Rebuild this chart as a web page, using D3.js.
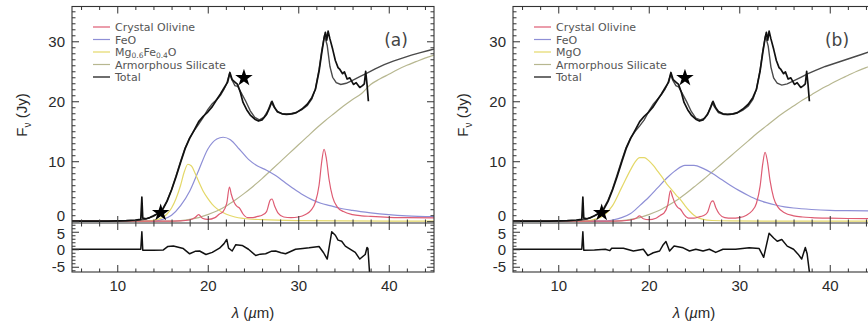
<!DOCTYPE html>
<html>
<head>
<meta charset="utf-8">
<script src="https://cdn.jsdelivr.net/npm/d3@7"></script>
<style>
  body { margin: 0; background: #fff; }
  svg { display: block; }
  .tick text { font-family: "Liberation Sans", Arial, Helvetica, sans-serif; font-size: 15px; fill: #2a2a2a; }
  .tick line { stroke: #333; stroke-width: 1; }
  .legend text { font-family: "DejaVu Sans", sans-serif; font-size: 11px; fill: #555; }
</style>
</head>
<body>
<svg id="chart" width="868" height="322"></svg>
<script>
// ---- axis ticks ----
const wavelengthTicks = [10, 20, 30, 40];
const fluxTicks = [0, 10, 20, 30];
const residualTicks = [-5, 0, 5];

// ---- legend labels ----
const legendNamesA = ["Crystal Olivine", "FeO", "Mg0.6Fe0.4O", "Armorphous Silicate", "Total"];
const legendNamesB = ["Crystal Olivine", "FeO", "MgO", "Armorphous Silicate", "Total"];

// ---- photometry points (λ µm, Jy) ----
const photometry = [[14.8, 1.4], [24.0, 23.9]];

// ---- observed spectrum (λ µm, Jy) ----
const observedFlux = [[5,0],[7,0],[9,0.02],[10,0.05],[11,0.1],[12,0.2],[12.6,0.3],[12.72,4.0],[12.82,0.5],[13.2,0.4],[13.6,0.6],[14,0.9],[14.5,1.3],[15,1.9],[15.5,3.3],[16,5.2],[16.5,7.4],[17,9.8],[17.5,12.1],[18,13.8],[18.5,15.2],[19,16.6],[19.5,17.5],[20,18.2],[20.5,19.1],[21,20.3],[21.4,21.2],[21.8,22.2],[22.2,23.2],[22.45,24.8],[22.7,23.6],[23,23.2],[23.3,22.8],[23.6,21.5],[23.9,19.8],[24.3,18.6],[24.7,17.7],[25.2,17.0],[25.6,16.7],[26,16.9],[26.5,17.8],[26.8,18.8],[27.1,20.0],[27.4,18.9],[27.7,18.3],[28.2,17.9],[28.7,17.8],[29.3,17.9],[29.8,18.1],[30.4,18.7],[31,19.5],[31.5,20.6],[31.9,22.0],[32.3,25.0],[32.6,28.1],[32.85,30.5],[33.0,31.5],[33.15,30.2],[33.3,31.7],[33.5,30.4],[33.8,28.7],[34.1,26.8],[34.4,25.6],[34.6,25.3],[34.9,24.6],[35.1,24.9],[35.4,23.7],[35.7,23.9],[36.1,22.8],[36.4,23.1],[36.8,22.3],[37.1,22.6],[37.3,22.9],[37.45,25.0],[37.6,22.8],[37.75,20.0]];

// ---- model (a) ----
const olivineA = [[5,0],[15,0],[17,0.05],[18,0.2],[18.6,0.6],[19.0,1.1],[19.4,0.5],[20,0.3],[20.8,0.6],[21.3,1.2],[21.7,1.6],[22.1,3.0],[22.4,5.7],[22.6,4.5],[22.9,3.2],[23.2,2.5],[23.5,2.2],[23.9,1.2],[24.4,0.6],[25,0.6],[25.5,0.8],[26,1.0],[26.5,1.6],[26.9,3.5],[27.1,3.7],[27.4,2.5],[27.8,1.3],[28.4,0.7],[29.2,0.6],[30,0.7],[30.8,1.1],[31.4,1.8],[31.9,3.2],[32.3,6.0],[32.6,10.0],[32.85,12.0],[33.1,10.5],[33.4,7.0],[33.8,4.0],[34.3,2.4],[35,1.6],[36,1.1],[37,0.9],[38,0.8],[40,0.65],[42,0.6],[45,0.55]];
const feoA = [[5,0],[14,0],[15,0.3],[16,1.0],[17,2.6],[18,5.0],[19,8.5],[20,12.0],[21,13.7],[21.7,14.0],[22.5,13.6],[23.5,12.0],[24.5,10.3],[25.5,9.2],[26.5,8.5],[27.5,7.6],[28.5,6.5],[29.5,5.4],[30.5,4.4],[31.5,3.6],[32.5,3.0],[33.5,2.6],[34.5,2.2],[36,1.8],[38,1.4],[40,1.1],[42,0.9],[45,0.75]];
const mgfeoA = [[5,0],[13,0],[14,0.15],[14.5,0.3],[15,0.6],[15.5,1.2],[16,2.2],[16.5,3.8],[17,6.0],[17.4,8.2],[17.8,9.5],[18.2,9.2],[18.6,8.0],[19,6.6],[19.5,5.0],[20,3.8],[20.5,2.8],[21,2.1],[22,1.2],[23,0.7],[24,0.45],[26,0.25],[30,0.1],[35,0.05],[45,0.02]];
const silicateA = [[5,0],[16,0],[17,0.1],[18,0.3],[19,0.6],[20,1.1],[21,1.7],[22,2.5],[23,3.5],[24,4.6],[25,5.8],[26,7.1],[27,8.5],[28,9.9],[29,11.3],[30,12.7],[31,14.1],[32,15.5],[33,16.8],[34,18.0],[35,19.2],[36,20.3],[37,21.3],[38,22.8],[39,23.7],[40,24.5],[41,25.3],[42,26.0],[43,26.6],[44,27.2],[45,27.7]];
const totalA = [[5,0],[10,0.02],[12,0.1],[13,0.3],[14,0.8],[14.5,1.3],[15,2.0],[15.5,3.4],[16,5.3],[16.5,7.6],[17,10.0],[17.5,12.2],[18,13.9],[18.5,15.1],[19,16.2],[19.5,17.3],[20,18.6],[20.5,19.6],[21,20.3],[21.4,21.0],[21.8,22.0],[22.1,23.0],[22.4,24.6],[22.7,23.5],[23,22.6],[23.3,22.5],[23.7,21.4],[24.2,20.0],[24.7,18.4],[25.2,17.3],[25.7,16.9],[26.2,17.3],[26.6,18.3],[27.0,19.8],[27.3,19.1],[27.7,18.2],[28.3,17.9],[29,17.9],[29.7,18.1],[30.4,18.6],[31,19.3],[31.5,20.4],[31.9,22.1],[32.3,25.3],[32.6,28.5],[32.9,31.0],[33.2,29.3],[33.5,25.8],[33.8,24.0],[34.2,23.1],[34.7,22.8],[35.3,23.0],[36,23.5],[36.8,24.1],[37.6,24.7],[38.5,25.4],[39.5,26.1],[40.5,26.7],[41.5,27.2],[42.5,27.7],[43.5,28.1],[44.5,28.5],[45,28.7]];
const residualA = [[5,0],[12.6,0],[12.72,5.0],[12.82,-0.3],[14,-0.3],[15.1,-0.2],[15.6,0.8],[16.2,0.9],[17.3,0.2],[18.0,-1.3],[18.6,-0.6],[19.1,-0.5],[19.8,-1.5],[20.5,-0.9],[21.3,0.3],[21.8,1.6],[22.1,2.8],[22.3,0.3],[22.7,-0.5],[23.1,1.3],[23.8,1.1],[24.5,0],[25.3,-1.8],[25.8,-1.4],[26.4,-1.3],[27.0,-0.6],[27.5,-0.5],[28.1,-1.0],[28.6,-1.3],[29.7,0],[30.5,0.2],[31.2,0.4],[32.3,0.8],[32.8,-1.0],[33.2,-2.8],[33.7,5.0],[34.1,4.0],[34.4,2.6],[34.8,2.3],[35.2,0.9],[35.5,0.4],[36.3,-0.9],[36.8,-2.8],[37.4,-1.5],[37.6,0.5],[37.7,0.2],[37.9,-7.5]];

// ---- model (b) ----
const olivineB = [[5,0],[15,0],[17,0.05],[18,0.2],[18.6,0.5],[19.0,0.9],[19.4,0.4],[20,0.25],[20.8,0.5],[21.3,1.0],[21.7,1.4],[22.1,2.7],[22.4,5.1],[22.6,4.2],[22.9,3.0],[23.2,2.3],[23.5,2.0],[23.9,1.1],[24.4,0.5],[25,0.5],[25.5,0.7],[26,0.9],[26.5,1.5],[26.9,3.2],[27.1,3.4],[27.4,2.3],[27.8,1.2],[28.4,0.6],[29.2,0.5],[30,0.6],[30.8,1.0],[31.4,1.7],[31.9,3.0],[32.3,5.8],[32.6,9.6],[32.85,11.5],[33.1,10.1],[33.4,6.8],[33.8,3.9],[34.3,2.3],[35,1.4],[36,0.9],[37,0.7],[38,0.6],[40,0.5],[42,0.45],[45,0.4]];
const feoB = [[5,0],[15,0],[16,0.2],[17,0.6],[18,1.3],[19,2.6],[20,4.0],[21,5.6],[22,7.2],[23,8.5],[24,9.3],[25,9.3],[26,8.8],[27,8.0],[28,7.0],[29,6.0],[30,5.1],[31,4.3],[32,3.6],[33,3.1],[34,2.7],[35,2.4],[36,2.2],[38,1.95],[40,1.8],[42,1.75],[45,1.7]];
const mgoB = [[5,0],[13,0],[14,0.3],[15,0.9],[16,2.6],[17,5.6],[18,8.6],[18.5,9.9],[19,10.6],[19.5,10.6],[20,10.1],[20.5,9.3],[21,8.3],[21.5,7.3],[22,6.2],[22.5,5.3],[23,4.4],[23.5,3.6],[24,2.6],[24.5,1.7],[25,1.0],[25.5,0.55],[26,0.3],[27,0.12],[29,0.04],[45,0]];
const silicateB = [[5,0],[16,0],[17,0.1],[18,0.3],[19,0.6],[20,1.1],[21,1.7],[22,2.5],[23,3.4],[24,4.5],[25,5.7],[26,6.9],[27,8.2],[28,9.5],[29,10.8],[30,12.1],[31,13.4],[32,14.7],[33,15.9],[34,17.1],[35,18.2],[36,19.2],[37,20.2],[38,21.1],[39,22.0],[40,22.8],[41,23.6],[42,24.3],[43,25.0],[44,25.6],[45,26.1]];
const totalB = [[5,0],[10,0.02],[12,0.1],[13,0.3],[14,0.9],[14.5,1.4],[15,2.1],[15.5,3.5],[16,5.4],[16.5,7.7],[17,10.1],[17.5,12.3],[18,13.9],[18.5,15.0],[19,15.9],[19.5,16.9],[20,18.3],[20.5,19.5],[21,20.4],[21.4,21.1],[21.8,22.0],[22.1,23.0],[22.4,24.4],[22.7,23.4],[23,22.6],[23.3,22.4],[23.7,21.3],[24.2,19.9],[24.7,18.3],[25.2,17.2],[25.7,16.9],[26.2,17.2],[26.6,18.2],[27.0,19.7],[27.3,19.0],[27.7,18.1],[28.3,17.8],[29,17.8],[29.7,18.0],[30.4,18.5],[31,19.2],[31.5,20.3],[31.9,22.0],[32.3,25.2],[32.6,28.4],[32.9,30.9],[33.2,29.2],[33.5,25.7],[33.8,23.9],[34.2,23.0],[34.7,22.7],[35.3,22.9],[36,23.4],[36.8,24.0],[37.6,24.6],[38.5,25.2],[39.5,25.8],[40.5,26.3],[41.5,26.8],[42.5,27.3],[43.5,27.8],[44.5,28.3],[45,28.5]];
const residualB = [[5,0],[12.6,0],[12.72,5.0],[12.82,-0.3],[14,-0.2],[15.2,0],[15.7,-0.4],[15.9,0.3],[17.2,0.3],[18.3,-0.5],[19.4,0],[19.9,-1.8],[20.5,-1.0],[21.2,-0.5],[21.6,1.3],[21.9,2.2],[22.3,-0.5],[22.8,0.9],[23.8,0.4],[24.5,-0.5],[25.2,0],[26.0,-0.5],[26.7,0],[27.4,-0.9],[28.2,0],[29.6,0],[31.1,0.4],[32.2,0.2],[32.7,-2.3],[33.3,4.6],[33.8,3.2],[34.2,2.3],[34.7,2.8],[35.3,0.9],[36.0,0],[36.5,-1.4],[36.9,-2.8],[37.3,0.5],[37.5,-1.3],[37.8,-7.5]];

// ---- component styling ----
const compColors = ["#de5c73", "#8e8fd6", "#e4d868", "#b7b790"];
const totalColor = "#4a4a4a";

const svg = d3.select("#chart");
const W = 362, topY = 6.5, midY = 223, botY = 272;

function drawPanel(left, tag, comps, total, resid, names) {
  const g = svg.append("g");
  const x = d3.scaleLinear().domain([5, 45]).range([left, left + W]);
  const y = d3.scaleLinear().domain([-0.3, 35.8]).range([midY, topY]);
  const yr = d3.scaleLinear().domain([-6.5, 7.5]).range([botY, midY]);

  const clipTop = "clipTop" + tag, clipBot = "clipBot" + tag;
  const defs = svg.append("defs");
  defs.append("clipPath").attr("id", clipTop).append("rect")
    .attr("x", left).attr("y", topY).attr("width", W).attr("height", midY - topY);
  defs.append("clipPath").attr("id", clipBot).append("rect")
    .attr("x", left).attr("y", midY).attr("width", W).attr("height", botY - midY);

  const smooth = d3.line().x(d => x(d[0])).y(d => y(d[1])).curve(d3.curveMonotoneX);
  const jagged = d3.line().x(d => x(d[0])).y(d => y(d[1]));
  const residLine = d3.line().x(d => x(d[0])).y(d => yr(d[1]));

  const plot = g.append("g").attr("clip-path", `url(#${clipTop})`);
  // components drawn back to front
  [3, 1, 2, 0].forEach(i => {
    plot.append("path").attr("d", smooth(comps[i])).attr("fill", "none")
      .attr("stroke", compColors[i]).attr("stroke-width", 1.2);
  });
  plot.append("path").attr("d", jagged(total)).attr("fill", "none")
    .attr("stroke", totalColor).attr("stroke-width", 1.4);
  plot.append("path").attr("d", jagged(observedFlux)).attr("fill", "none")
    .attr("stroke", "#111").attr("stroke-width", 1.7).attr("stroke-linejoin", "round");

  // photometry stars
  plot.selectAll("path.star").data(photometry).enter().append("path")
    .attr("class", "star")
    .attr("d", d3.symbol(d3.symbolStar).size(95))
    .attr("transform", d => `translate(${x(d[0])},${y(d[1])})`)
    .attr("fill", "#000");

  g.append("g").attr("clip-path", `url(#${clipBot})`)
    .append("path").attr("d", residLine(resid)).attr("fill", "none")
    .attr("stroke", "#111").attr("stroke-width", 1.5).attr("stroke-linejoin", "round");

  // axes: major + minor ticks on every side, pointing inward
  const minorX = d3.range(6, 45, 2).filter(v => v % 10 !== 0);
  const addAxis = (axis, tx, ty) => {
    const a = g.append("g").attr("transform", `translate(${tx},${ty})`).call(axis);
    a.select(".domain").remove();
    return a;
  };
  [[topY, d3.axisBottom], [midY, d3.axisTop], [midY, d3.axisBottom], [botY, d3.axisTop]].forEach(([yy, f]) => {
    addAxis(f(x).tickValues(wavelengthTicks).tickSize(7).tickFormat(""), 0, yy);
    addAxis(f(x).tickValues(minorX).tickSize(3.5).tickFormat(""), 0, yy);
  });
  const labelsX = addAxis(d3.axisBottom(x).tickValues(wavelengthTicks).tickSize(0).tickPadding(8), 0, botY);
  labelsX.selectAll("text").attr("dy", "0.75em");

  const minorF = d3.range(1, 36).filter(v => v % 10 !== 0);
  [[left, d3.axisRight], [left + W, d3.axisLeft]].forEach(([xx, f]) => {
    addAxis(f(y).tickValues(fluxTicks).tickSize(7).tickFormat(""), xx, 0);
    addAxis(f(y).tickValues(minorF).tickSize(3.5).tickFormat(""), xx, 0);
    addAxis(f(yr).tickValues(residualTicks).tickSize(7).tickFormat(""), xx, 0);
    addAxis(f(yr).tickValues(d3.range(-6, 8).filter(v => v % 5 !== 0)).tickSize(3.5).tickFormat(""), xx, 0);
  });
  // flux labels; the zero sits a little above its tick so it clears the residual "5"
  const fl = addAxis(d3.axisLeft(y).tickValues(fluxTicks).tickSize(0).tickPadding(7), left, 0);
  fl.selectAll(".tick").filter(d => d === 0).select("text").attr("dy", "-0.3px");
  const rl = addAxis(d3.axisLeft(yr).tickValues(residualTicks).tickSize(0).tickPadding(7)
    .tickFormat(d => d < 0 ? "-" + Math.abs(d) : d), left, 0);
  rl.selectAll(".tick").filter(d => d === 5).select("text").attr("dy", "6.8px");

  // frame
  g.append("rect").attr("x", left).attr("y", topY).attr("width", W).attr("height", botY - topY)
    .attr("fill", "none").attr("stroke", "#333").attr("stroke-width", 1.1);
  g.append("line").attr("x1", left).attr("x2", left + W).attr("y1", midY).attr("y2", midY)
    .attr("stroke", "#333").attr("stroke-width", 1.1);

  // axis titles
  const yt = g.append("text")
    .attr("transform", `translate(${left - 45},115) rotate(-90)`)
    .attr("text-anchor", "middle")
    .style("font-family", "Liberation Sans, Arial, sans-serif").style("font-size", "15px").style("fill", "#2a2a2a");
  yt.append("tspan").text("F");
  yt.append("tspan").text("ν").style("font-size", "10px").attr("dy", "4");
  yt.append("tspan").text(" (Jy)").attr("dy", "-4");

  const xt = g.append("text")
    .attr("x", left + W / 2).attr("y", 318).attr("text-anchor", "middle")
    .style("font-family", "Liberation Sans, Arial, sans-serif").style("font-size", "15px").style("fill", "#2a2a2a");
  xt.append("tspan").text("λ").style("font-style", "italic");
  xt.append("tspan").text(" (");
  xt.append("tspan").text("µ").style("font-style", "italic");
  xt.append("tspan").text("m)");

  // panel tag
  g.append("text").attr("x", left + 324).attr("y", 46).attr("text-anchor", "middle")
    .style("font-family", "DejaVu Sans, sans-serif").style("font-size", "17px").style("fill", "#444")
    .text(`(${tag})`);

  // legend
  const leg = g.append("g").attr("class", "legend");
  const legColors = compColors.concat([totalColor]);
  names.forEach((name, i) => {
    const yy = 27 + i * 12.5;
    leg.append("line").attr("x1", left + 21).attr("x2", left + 38).attr("y1", yy).attr("y2", yy)
      .attr("stroke", legColors[i]).attr("stroke-width", i === 4 ? 1.6 : 1.2);
    const t = leg.append("text").attr("x", left + 43).attr("y", yy + 4);
    const m = name.match(/^Mg([\d.]+)Fe([\d.]+)O$/);
    if (m) {
      t.append("tspan").text("Mg");
      t.append("tspan").text(m[1]).style("font-size", "7.5px").attr("dy", 2);
      t.append("tspan").text("Fe").attr("dy", -2);
      t.append("tspan").text(m[2]).style("font-size", "7.5px").attr("dy", 2);
      t.append("tspan").text("O").attr("dy", -2);
    } else {
      t.text(name);
    }
  });
}

drawPanel(72, "a", [olivineA, feoA, mgfeoA, silicateA], totalA, residualA, legendNamesA);
drawPanel(513, "b", [olivineB, feoB, mgoB, silicateB], totalB, residualB, legendNamesB);
</script>
</body>
</html>
